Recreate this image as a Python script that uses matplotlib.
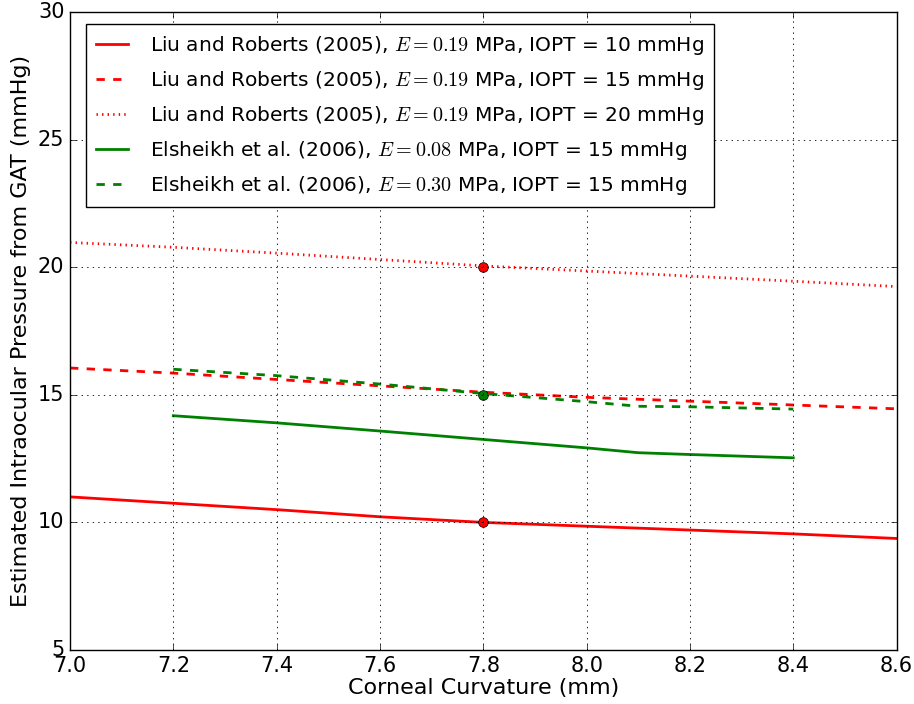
import matplotlib
matplotlib.use("Agg")
import matplotlib.pyplot as plt

plt.style.use("classic")
plt.rcParams["mathtext.fontset"] = "cm"
plt.rcParams["font.family"] = ["DejaVu Sans"]

x_lr = [7.0, 7.2, 7.4, 7.6, 7.8, 8.0, 8.2, 8.4, 8.6]
lr_10 = [11.0, 10.75, 10.5, 10.22, 10.0, 9.85, 9.7, 9.55, 9.37]
lr_15 = [16.05, 15.85, 15.6, 15.35, 15.1, 14.9, 14.75, 14.6, 14.45]
lr_20 = [20.97, 20.78, 20.55, 20.3, 20.05, 19.85, 19.65, 19.45, 19.24]

x_el = [7.2, 7.4, 7.6, 7.8, 8.0, 8.1, 8.2, 8.4]
el_008 = [14.18, 13.9, 13.58, 13.25, 12.92, 12.73, 12.66, 12.53]
el_030 = [16.0, 15.75, 15.42, 15.05, 14.73, 14.55, 14.53, 14.44]

ref_x = [7.8, 7.8, 7.8]
ref_y = [20, 15, 10]
ref_c = ["red", "green", "red"]

labels = [
    r"Liu and Roberts (2005), $E=0.19$ MPa, IOPT = 10 mmHg",
    r"Liu and Roberts (2005), $E=0.19$ MPa, IOPT = 15 mmHg",
    r"Liu and Roberts (2005), $E=0.19$ MPa, IOPT = 20 mmHg",
    r"Elsheikh et al. (2006), $E=0.08$ MPa, IOPT = 15 mmHg",
    r"Elsheikh et al. (2006), $E=0.30$ MPa, IOPT = 15 mmHg",
]

fig = plt.figure(figsize=(9.14, 7.04), dpi=100, facecolor="white")
ax = fig.add_axes([0.0766, 0.0767, 0.9044, 0.9063])

lw = 2
ax.plot(x_lr, lr_10, color="red", ls="-", lw=lw, label=labels[0])
ax.plot(x_lr, lr_15, color="red", ls="--", lw=lw, label=labels[1])
ax.plot(x_lr, lr_20, color="red", ls=":", lw=lw, label=labels[2])
ax.plot(x_el, el_008, color="green", ls="-", lw=lw, label=labels[3])
ax.plot(x_el, el_030, color="green", ls="--", lw=lw, label=labels[4])

for xx, yy, cc in zip(ref_x, ref_y, ref_c):
    ax.plot([xx], [yy], "o", color=cc, markersize=7, markeredgecolor="black",
            markeredgewidth=0.5)

ax.set_xlim(7.0, 8.6)
ax.set_ylim(5, 30)
ax.set_xticks([7.0, 7.2, 7.4, 7.6, 7.8, 8.0, 8.2, 8.4, 8.6])
ax.set_yticks([5, 10, 15, 20, 25, 30])
ax.tick_params(labelsize=15)
ax.grid(True, color="black", ls=":", lw=0.6)
ax.set_xlabel("Corneal Curvature (mm)", fontsize=16, labelpad=2)
ax.set_ylabel("Estimated Intraocular Pressure from GAT (mmHg)", fontsize=16, labelpad=5)

ax.legend(loc="upper left", bbox_to_anchor=(16 / 827, 1 - 12 / 638),
          borderaxespad=0, fontsize=14.5, numpoints=1, handlelength=1.6,
          handletextpad=1.1, fancybox=False, frameon=True, borderpad=0.5,
          labelspacing=0.6)

fig.savefig("out.png", dpi=100, facecolor="white")
